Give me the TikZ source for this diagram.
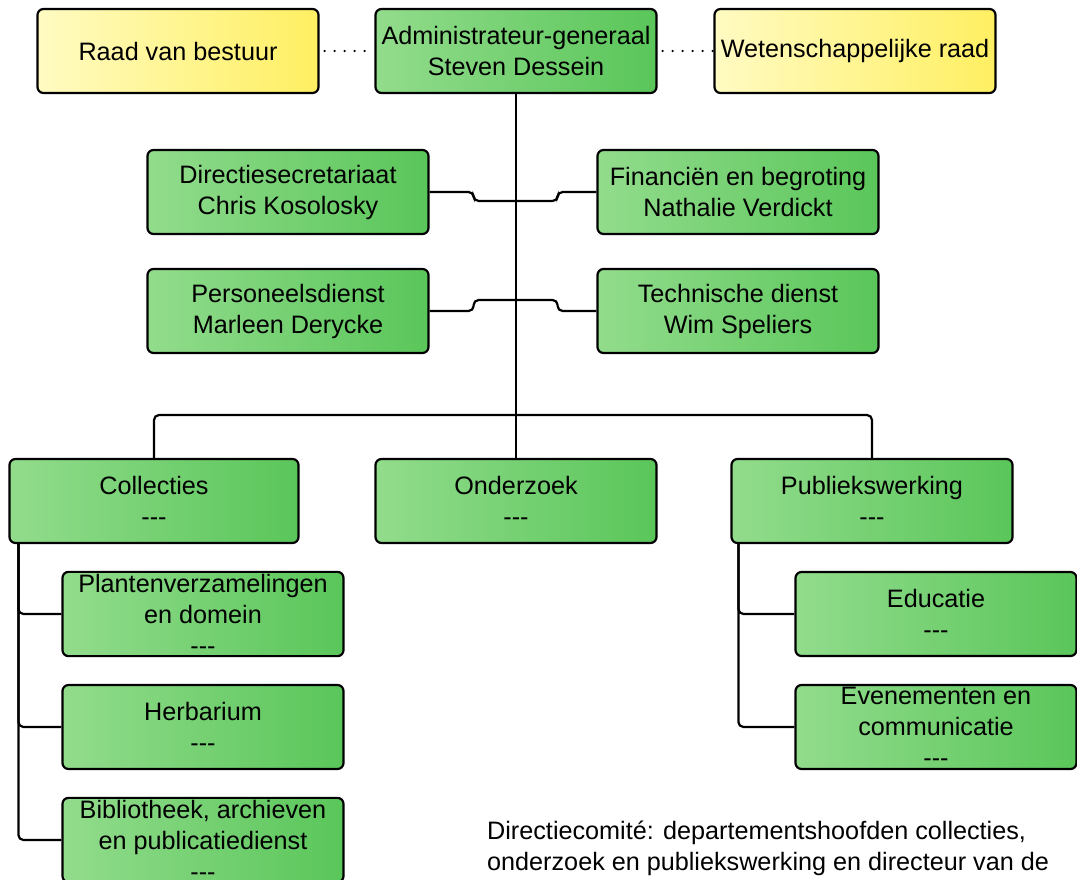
\documentclass[tikz,border=0pt]{standalone}
\usepackage{fontspec}
\setmainfont{Liberation Sans}
\definecolor{greenA}{HTML}{92DC8C}
\definecolor{greenB}{HTML}{5AC65A}
\definecolor{yellowA}{HTML}{FFFBC2}
\definecolor{yellowB}{HTML}{FFEF62}
\begin{document}
\begin{tikzpicture}[x=1pt, y=-1pt,
		box/.style={draw, line width=2.2pt, rounded corners=6pt, minimum width=281pt, minimum height=84pt, align=center, inner sep=2pt, font=\fontsize{25.2}{31}\selectfont},
		gbox/.style={box, left color=greenA, right color=greenB},
		ybox/.style={box, left color=yellowA, right color=yellowB},
		wire/.style={line width=2.2pt, rounded corners=5pt},
		dotwire/.style={line width=2.4pt, dash pattern=on 0pt off 10pt, line cap=round}]
	\useasboundingbox (0,0) rectangle (1077,880);
	\def\dash{-{}-{}-}

	% top row
	\node[ybox] (raad) at (178,51) {Raad van bestuur};
	\node[gbox] (admin) at (516,51) {Administrateur-generaal\\Steven Dessein};
	\node[ybox] (wet) at (855,51) {Wetenschappelijke raad};
	\draw[dotwire] ([xshift=5pt]raad.east) -- (admin.west);
	\draw[dotwire] ([xshift=5pt]admin.east) -- (wet.west);

	% staff
	\node[gbox] (dirsec) at (288,192) {Directiesecretariaat\\Chris Kosolosky};
	\node[gbox] (fin) at (738,192) {Financiën en begroting\\Nathalie Verdickt};
	\node[gbox] (pers) at (288,311) {Personeelsdienst\\Marleen Derycke};
	\node[gbox] (tech) at (738,311) {Technische dienst\\Wim Speliers};

	% departments
	\node[gbox, minimum width=289pt] (coll) at (154,501) {Collecties\\\dash};
	\node[gbox] (onder) at (516,501) {Onderzoek\\\dash};
	\node[gbox] (pub) at (872,501) {Publiekswerking\\\dash};

	\node[gbox] (plant) at (203,614) {Plantenverzamelingen\\en domein\\\dash};
	\node[gbox] (herb) at (203,727) {Herbarium\\\dash};
	\node[gbox] (bib) at (203,840) {Bibliotheek, archieven\\en publicatiedienst\\\dash};
	\node[gbox] (edu) at (936,614) {Educatie\\\dash};
	\node[gbox] (even) at (936,727) {Evenementen en\\communicatie\\\dash};

	\node[anchor=north west, align=left, inner sep=0pt, font=\fontsize{25.2}{31}\selectfont] (note) at (487,821)
		{Directiecomité: departementshoofden collecties,\\onderzoek en publiekswerking en directeur van de};

	% lines
	\coordinate (bus) at (516,415);
	\draw[line width=2.2pt] (admin.south) -- (bus) -- (onder.north);
	\draw[wire] (dirsec.east) -- ++(44,0) -- ++(0,9) -- ++(84,0) -- ++(0,-9) -- (fin.west);
	\draw[wire] (pers.east) -- ++(44,0) -- ++(0,-11) -- ++(84,0) -- ++(0,11) -- (tech.west);
	\draw[wire] (coll.north) |- (bus) -| (pub.north);

	\draw[wire] ([xshift=10pt]coll.south west) |- (plant.west);
	\draw[wire] ([xshift=10pt]coll.south west) |- (herb.west);
	\draw[wire] ([xshift=10pt]coll.south west) |- (bib.west);
	\draw[wire] ([xshift=8pt]pub.south west) |- (edu.west);
	\draw[wire] ([xshift=8pt]pub.south west) |- (even.west);
\end{tikzpicture}
\end{document}
